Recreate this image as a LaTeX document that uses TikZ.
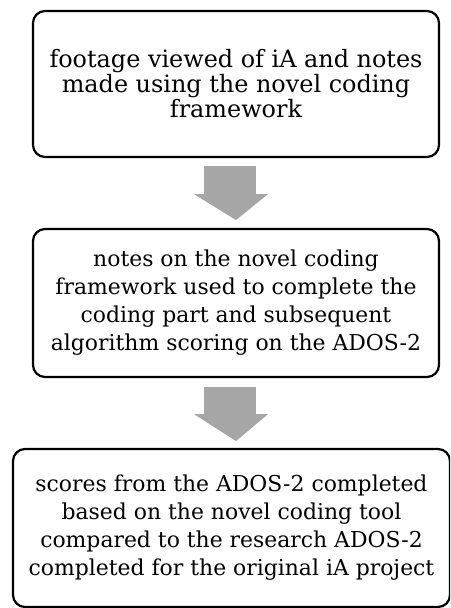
\documentclass[tikz,border=0pt]{standalone}
\usepackage{fontspec}
\setmainfont{DejaVu Serif}
\usetikzlibrary{positioning,calc}
\definecolor{arrowgray}{HTML}{A6A6A6}

\begin{document}
\begin{tikzpicture}[x=1pt,y=-1pt,
    stagebox/.style={draw,line width=2.2pt,rounded corners=12pt,align=center,
      inner sep=0pt,font=\fontsize{21.9}{28}\selectfont},
    blockarrow/.style={fill=arrowgray,draw=none}]
  \useasboundingbox (0,0) rectangle (450,608);
  \clip (0,0) rectangle (450,608);
  \node[stagebox,minimum width=406pt,minimum height=146pt,
    font=\fontsize{23.9}{25}\selectfont] (view) at (236,84)
    {footage viewed of iA and notes\\made using the novel coding\\framework};
  \node[stagebox,minimum width=406pt,minimum height=148pt] (notes) at (236,303)
    {notes on the novel coding\\framework used to complete the\\coding part and subsequent\\algorithm scoring on the ADOS-2};
  \node[stagebox,minimum width=437pt,minimum height=158pt] (scores) at (231.5,528)
    {scores from the ADOS-2 completed\\based on the novel coding tool\\compared to the research ADOS-2\\completed for the original iA project};
  % block arrows between the stages
  \fill[blockarrow] ($(view.south)+(-32,8)$) rectangle ($(view.south)+(20,36)$);
  \fill[blockarrow] ($(view.south)+(-42,36)$) -- ($(view.south)+(32,36)$)
    -- ($(view.south)+(0,62)$) -- cycle;
  \fill[blockarrow] ($(notes.south)+(-32,9)$) rectangle ($(notes.south)+(20,36)$);
  \fill[blockarrow] ($(notes.south)+(-42,36)$) -- ($(notes.south)+(32,36)$)
    -- ($(notes.south)+(0,63)$) -- cycle;
\end{tikzpicture}
\end{document}
